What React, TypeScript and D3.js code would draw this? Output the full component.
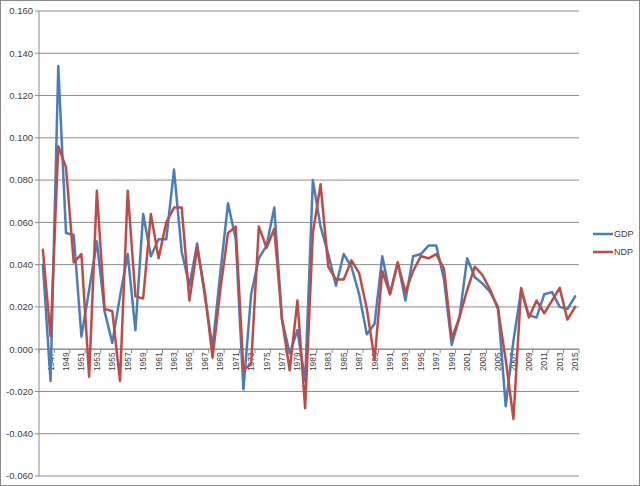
import React from 'react';
import * as d3 from 'd3';

// categories: one per year
const years = [
  1946, 1947, 1948, 1949, 1950, 1951, 1952, 1953, 1954, 1955,
  1956, 1957, 1958, 1959, 1960, 1961, 1962, 1963, 1964, 1965,
  1966, 1967, 1968, 1969, 1970, 1971, 1972, 1973, 1974, 1975,
  1976, 1977, 1978, 1979, 1980, 1981, 1982, 1983, 1984, 1985,
  1986, 1987, 1988, 1989, 1990, 1991, 1992, 1993, 1994, 1995,
  1996, 1997, 1998, 1999, 2000, 2001, 2002, 2003, 2004, 2005,
  2006, 2007, 2008, 2009, 2010, 2011, 2012, 2013, 2014, 2015,
];

const gdp = [
  0.040, -0.015, 0.134, 0.055, 0.054, 0.006, 0.028, 0.051, 0.018, 0.003,
  0.025, 0.045, 0.009, 0.064, 0.044, 0.052, 0.052, 0.085, 0.046, 0.030,
  0.050, 0.025, 0.001, 0.036, 0.069, 0.052, -0.019, 0.026, 0.043, 0.049,
  0.067, 0.014, -0.002, 0.009, -0.015, 0.080, 0.058, 0.045, 0.030, 0.045,
  0.039, 0.026, 0.007, 0.012, 0.044, 0.026, 0.041, 0.023, 0.044, 0.045,
  0.049, 0.049, 0.033, 0.002, 0.015, 0.043, 0.034, 0.031, 0.027, 0.020,
  -0.027, 0.004, 0.028, 0.016, 0.015, 0.026, 0.027, 0.020, 0.019, 0.025,
];

const ndp = [
  0.047, 0.006, 0.096, 0.086, 0.041, 0.045, -0.013, 0.075, 0.019, 0.018,
  -0.015, 0.075, 0.025, 0.024, 0.064, 0.043, 0.060, 0.067, 0.067, 0.023,
  0.048, 0.027, -0.004, 0.028, 0.055, 0.058, -0.010, -0.007, 0.058, 0.048,
  0.057, 0.014, -0.010, 0.023, -0.028, 0.055, 0.078, 0.039, 0.033, 0.033,
  0.042, 0.036, 0.019, -0.005, 0.037, 0.026, 0.041, 0.027, 0.037, 0.044,
  0.043, 0.045, 0.038, 0.005, 0.015, 0.028, 0.039, 0.035, 0.028, 0.019,
  -0.005, -0.033, 0.029, 0.015, 0.023, 0.017, 0.023, 0.029, 0.014, 0.020,
];

const yTicks = [-0.06, -0.04, -0.02, 0, 0.02, 0.04, 0.06, 0.08, 0.1, 0.12, 0.14, 0.16];

const seriesList = [
  { name: 'GDP', values: gdp, color: '#4A7EBB' },
  { name: 'NDP', values: ndp, color: '#BE4B48' },
];

const width = 640;
const height = 486;
const margin = { top: 11, right: 61, bottom: 10, left: 39 };
const font = '"Liberation Sans", Arial, sans-serif';

const App: React.FC = () => {
  const x = d3.scalePoint<number>()
    .domain(years)
    .range([margin.left, width - margin.right])
    .padding(0.5);
  const step = x.step();

  const y = d3.scaleLinear()
    .domain([-0.06, 0.16])
    .range([height - margin.bottom, margin.top]);

  const line = d3.line<number>()
    .x((_, i) => x(years[i]) as number)
    .y(d => y(d));

  // labels on every other year, tick marks between the pairs
  const labelled = years.filter((_, i) => i % 2 === 1);
  const tickXs = [margin.left, ...labelled.map(yr => (x(yr) as number) + step / 2)];

  const y0 = y(0);

  return (
    <svg width={width} height={height} style={{ position: 'absolute', left: 0, top: 0, background: '#fff' }}>
      <rect x={0.5} y={0.5} width={width - 1} height={height - 1} fill="#fff" stroke="#8a8a8a" />

      {/* gridlines + y axis labels */}
      {yTicks.map(t => (
        <g key={t}>
          <line x1={margin.left - 4} x2={width - margin.right} y1={y(t)} y2={y(t)} stroke="#8c8c8c" strokeWidth={1} />
          <text x={33} y={y(t)} dy="0.35em" textAnchor="end" fontFamily={font} fontSize={9.5} fill="#404040">
            {t.toFixed(3)}
          </text>
        </g>
      ))}
      <line x1={margin.left} x2={margin.left} y1={margin.top} y2={height - margin.bottom} stroke="#8c8c8c" />

      {/* category axis at zero */}
      <line x1={margin.left} x2={width - margin.right} y1={y0} y2={y0} stroke="#8c8c8c" />
      {tickXs.map((tx, i) => (
        <line key={i} x1={tx} x2={tx} y1={y0} y2={y0 + 4} stroke="#8c8c8c" />
      ))}
      {labelled.map(yr => (
        <text
          key={yr}
          transform={`translate(${x(yr)},${y0 + 3}) rotate(-90)`}
          textAnchor="end"
          dy="0.35em"
          fontFamily={font}
          fontSize={8.5}
          fill="#404040"
        >
          {yr}
        </text>
      ))}

      {/* series */}
      {seriesList.map(s => (
        <path key={s.name} d={line(s.values) as string} fill="none" stroke={s.color}
          strokeWidth={2.5} strokeLinejoin="round" strokeLinecap="round" />
      ))}

      {/* legend */}
      {seriesList.map((s, i) => (
        <g key={s.name} transform={`translate(593,${234 + i * 18})`}>
          <line x1={0} x2={20} y1={0} y2={0} stroke={s.color} strokeWidth={2.5} />
          <text x={21} y={0} dy="0.35em" fontFamily={font} fontSize={9} fill="#404040">{s.name}</text>
        </g>
      ))}
    </svg>
  );
};

export default App;
